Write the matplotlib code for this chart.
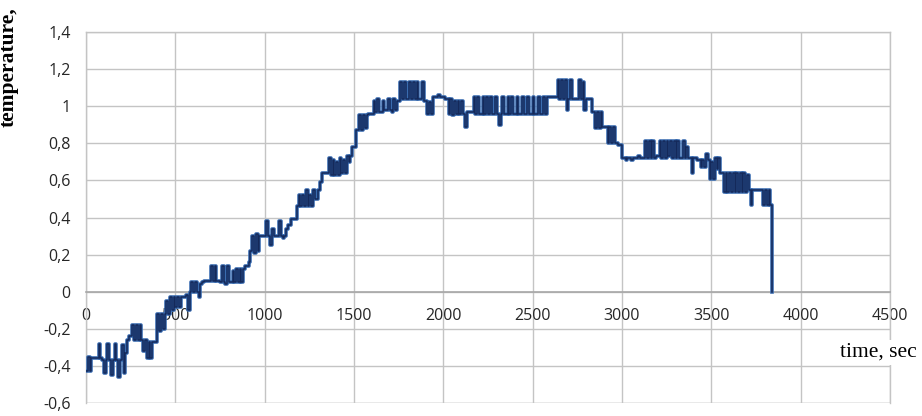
import numpy as np
import matplotlib.pyplot as plt
from matplotlib.ticker import FuncFormatter

# sensor readings, one every 10 s (rows of 100 s)
dt = 10
temperature = [
    -0.43, -0.35, -0.43, -0.36, -0.36, -0.36, -0.36, -0.28, -0.36, -0.37,
    -0.44, -0.37, -0.28, -0.37, -0.45, -0.37, -0.28, -0.37, -0.46, -0.37,
    -0.29, -0.44, -0.33, -0.26, -0.24, -0.24, -0.18, -0.26, -0.18, -0.26,
    -0.18, -0.26, -0.32, -0.26, -0.36, -0.27, -0.36, -0.27, -0.27, -0.27,
    -0.12, -0.21, -0.12, -0.20, -0.12, -0.05, -0.12, -0.03, -0.10, -0.03,
    -0.08, -0.03, -0.08, -0.03, -0.03, -0.03, -0.02, -0.10, 0.00, 0.05,
    0.00, 0.05, 0.00, -0.03, 0.04, 0.05, 0.06, 0.06, 0.06, 0.06,
    0.14, 0.06, 0.14, 0.06, 0.06, 0.05, 0.14, 0.05, 0.04, 0.14,
    0.05, 0.05, 0.11, 0.05, 0.12, 0.05, 0.12, 0.05, 0.12, 0.14,
    0.14, 0.16, 0.22, 0.30, 0.21, 0.31, 0.22, 0.30, 0.30, 0.30,
    0.30, 0.38, 0.30, 0.25, 0.34, 0.30, 0.30, 0.30, 0.38, 0.30,
    0.29, 0.30, 0.34, 0.36, 0.36, 0.39, 0.39, 0.39, 0.46, 0.52,
    0.46, 0.52, 0.46, 0.55, 0.46, 0.52, 0.46, 0.55, 0.50, 0.50,
    0.55, 0.59, 0.64, 0.64, 0.64, 0.64, 0.72, 0.63, 0.71, 0.63,
    0.70, 0.63, 0.72, 0.64, 0.71, 0.64, 0.73, 0.70, 0.73, 0.78,
    0.78, 0.87, 0.87, 0.95, 0.87, 0.95, 0.88, 0.95, 0.96, 0.96,
    0.96, 1.03, 0.97, 1.04, 0.97, 0.97, 1.03, 0.98, 0.98, 1.04,
    0.98, 0.97, 1.04, 0.98, 1.03, 1.03, 1.13, 1.04, 1.13, 1.04,
    1.04, 1.13, 1.04, 1.13, 1.04, 1.13, 1.04, 1.04, 1.13, 1.03,
    1.03, 0.96, 1.02, 0.96, 1.05, 1.05, 1.05, 1.06, 1.05, 1.05,
    1.05, 1.04, 1.04, 0.96, 1.04, 0.95, 1.03, 0.96, 1.03, 0.96,
    1.03, 0.96, 0.89, 0.97, 0.97, 0.97, 0.97, 1.05, 0.96, 1.05,
    0.96, 0.96, 1.05, 0.96, 1.05, 0.96, 1.05, 0.96, 0.96, 1.05,
    0.96, 0.90, 0.96, 1.05, 0.96, 0.96, 1.05, 0.96, 1.05, 0.96,
    0.96, 1.05, 0.96, 0.96, 1.05, 0.96, 0.96, 1.05, 0.96, 0.96,
    1.05, 0.96, 0.96, 1.05, 0.96, 0.96, 1.05, 0.96, 1.05, 1.05,
    1.05, 1.05, 1.05, 1.05, 1.14, 1.04, 1.14, 1.04, 1.14, 0.98,
    1.04, 1.14, 1.04, 1.04, 1.04, 1.04, 1.14, 1.04, 1.13, 0.98,
    1.04, 1.04, 1.04, 0.97, 0.97, 0.88, 0.97, 0.88, 0.97, 0.89,
    0.89, 0.89, 0.80, 0.89, 0.80, 0.89, 0.80, 0.80, 0.79, 0.79,
    0.72, 0.72, 0.71, 0.72, 0.72, 0.71, 0.72, 0.72, 0.72, 0.73,
    0.72, 0.72, 0.72, 0.81, 0.72, 0.81, 0.72, 0.81, 0.72, 0.73,
    0.73, 0.81, 0.72, 0.81, 0.72, 0.81, 0.73, 0.81, 0.72, 0.81,
    0.72, 0.81, 0.72, 0.72, 0.81, 0.72, 0.78, 0.72, 0.72, 0.64,
    0.72, 0.72, 0.71, 0.71, 0.67, 0.71, 0.67, 0.74, 0.71, 0.61,
    0.70, 0.61, 0.72, 0.66, 0.72, 0.64, 0.64, 0.54, 0.64, 0.54,
    0.64, 0.54, 0.64, 0.54, 0.64, 0.54, 0.64, 0.54, 0.64, 0.54,
    0.63, 0.55, 0.47, 0.55, 0.55, 0.55, 0.55, 0.55, 0.55, 0.47,
    0.55, 0.47, 0.55, 0.47, 0.00,
]
time_s = np.arange(len(temperature)) * dt

x_ticks = [0, 500, 1000, 1500, 2000, 2500, 3000, 3500, 4000, 4500]
y_ticks = [-0.6, -0.4, -0.2, 0, 0.2, 0.4, 0.6, 0.8, 1.0, 1.2, 1.4]

fig = plt.figure(figsize=(9.22, 4.16), dpi=100)
ax = fig.add_axes([86 / 922, 1 - 403 / 416, 804 / 922, 371 / 416])

ax.plot(time_s, temperature, drawstyle='steps-post', color='#3a6cb0', lw=2.6, zorder=3)
ax.plot(time_s, temperature, drawstyle='steps-post', color='#14295a', lw=1.1, zorder=4)

ax.set_xlim(0, 4500)
ax.set_ylim(-0.6, 1.4)
ax.set_xticks(x_ticks)
ax.set_yticks(y_ticks)

def comma(v, pos):
    s = f"{v:.1f}".replace('.', ',')
    if s.endswith(',0'):
        s = s[:-2]
    if s == '-0':
        s = '0'
    return s

ax.yaxis.set_major_formatter(FuncFormatter(comma))
ax.xaxis.set_major_formatter(FuncFormatter(lambda v, p: f"{int(v)}"))

ax.grid(True, color='#c4c4c4', lw=1.0)
ax.set_axisbelow(True)
for side in ['top', 'right', 'left']:
    ax.spines[side].set_color('#c4c4c4')
    ax.spines[side].set_linewidth(1.0)
ax.spines['bottom'].set_position(('data', 0))
ax.spines['bottom'].set_color('#a8a8a8')
ax.spines['bottom'].set_linewidth(1.2)
ax.axhline(-0.6, color='#c4c4c4', lw=1.0, zorder=1)

ax.tick_params(length=0, labelsize=11.5, labelcolor='#262626')
ax.tick_params(axis='x', pad=12)
ax.tick_params(axis='y', pad=11)
for lab in ax.get_xticklabels() + ax.get_yticklabels():
    lab.set_family('Open Sans')

fig.text(14 / 922, 1 - 127 / 416, 'temperature,', rotation=90, rotation_mode='anchor',
         ha='left', va='baseline', fontsize=15.5, fontweight='bold', family='Liberation Serif')
fig.text(840 / 922, 1 - 357 / 416, 'time, sec', ha='left', va='baseline',
         fontsize=15.5, family='Liberation Serif',
         bbox=dict(facecolor='white', edgecolor='none', pad=2))

fig.savefig('out.png', dpi=100)
